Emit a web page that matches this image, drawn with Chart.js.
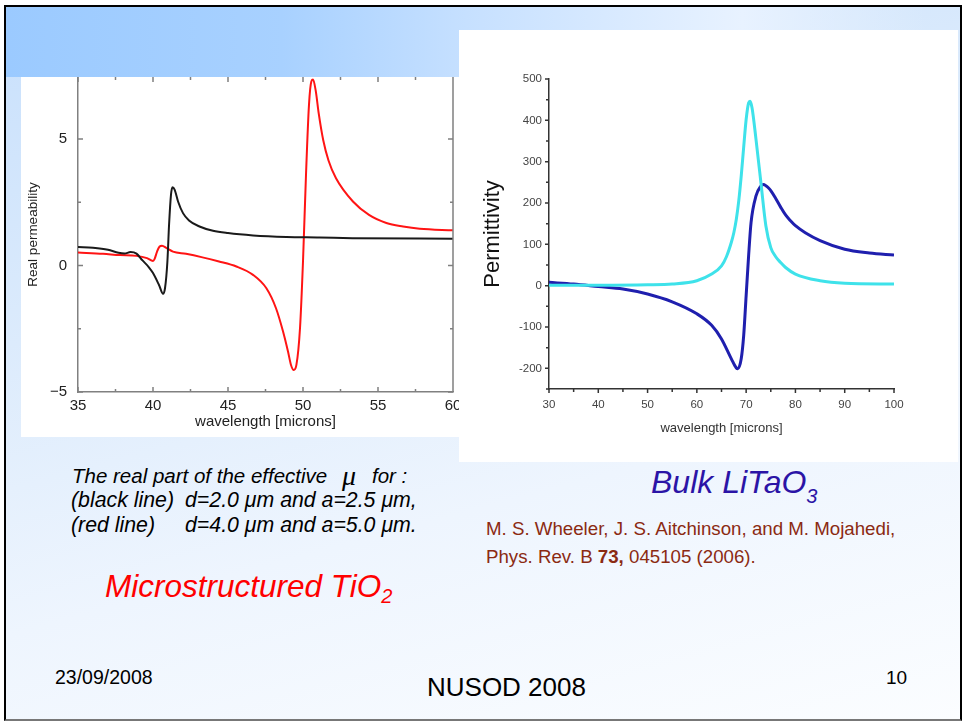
<!DOCTYPE html>
<html>
<head>
<meta charset="utf-8">
<script src="https://cdn.jsdelivr.net/npm/chart.js@4.4.1/dist/chart.umd.min.js"></script>
<style>
  body { margin: 0; width: 964px; height: 723px; position: relative; overflow: hidden; background: #fff;
         font-family: "Liberation Sans", Arial, sans-serif; }
  .slide { position: absolute; left: 4px; top: 5px; width: 954px; height: 712px;
           border: 2px solid #000; border-bottom-color: #777;
           background: linear-gradient(165deg, #c8e0fc 0%, #dcebfc 35%, #eef5fe 65%, #fbfdff 100%); }
  .band { position: absolute; left: 6px; top: 7px; width: 920px; height: 70px;
          background: linear-gradient(to right, #9bcaff 0%, #a8d1ff 30%, #c6e0ff 50%, #e8f2ff 80%, rgba(255,255,255,0) 100%); }
  .box { position: absolute; background: #fff; }
  .t { position: absolute; white-space: pre; line-height: 1; }
</style>
</head>
<body>
<div class="slide"></div>
<div class="band"></div>
<div class="box" style="left:21px;top:77px;width:438px;height:360px"><canvas id="leftChart"></canvas></div>
<div class="box" style="left:459px;top:30px;width:499px;height:432px"><canvas id="rightChart"></canvas></div>

<div class="t" style="left:72px;top:466px;font-size:20.5px;font-style:italic">The real part of the effective</div>
<div class="t" style="left:342px;top:462px;font-size:28px;font-style:italic;font-family:'Liberation Serif',serif">μ</div>
<div class="t" style="left:372px;top:466px;font-size:20.5px;font-style:italic">for :</div>
<div class="t" style="left:71px;top:490px;font-size:21.3px;font-style:italic">(black line)</div>
<div class="t" style="left:185px;top:490px;font-size:21.3px;font-style:italic">d=2.0 μm and a=2.5 μm,</div>
<div class="t" style="left:71px;top:515px;font-size:21.3px;font-style:italic">(red line)</div>
<div class="t" style="left:185px;top:515px;font-size:21.3px;font-style:italic">d=4.0 μm and a=5.0 μm.</div>
<div class="t" style="left:105px;top:571px;font-size:31.5px;font-style:italic;color:#ff0000">Microstructured TiO<span style="font-size:20px;position:relative;top:6px">2</span></div>
<div class="t" style="left:651px;top:466px;font-size:32px;font-style:italic;color:#2b14a6">Bulk LiTaO<span style="font-size:20px;position:relative;top:10px">3</span></div>
<div class="t" style="left:486px;top:520px;font-size:18.7px;color:#8b2a12">M. S. Wheeler, J. S. Aitchinson, and M. Mojahedi,</div>
<div class="t" style="left:486px;top:548px;font-size:18.7px;color:#8b2a12">Phys. Rev. B <b>73,</b> 045105 (2006).</div>
<div class="t" style="left:55px;top:668px;font-size:19.5px">23/09/2008</div>
<div class="t" style="left:427px;top:674px;font-size:26px">NUSOD 2008</div>
<div class="t" style="left:886px;top:668px;font-size:19px">10</div>

<script>
"use strict";
Chart.defaults.font.family = "'Liberation Sans', Arial, sans-serif";

// left graph: real permeability vs wavelength
const blackX = [35, 36, 37, 37.7, 38.1, 38.5, 38.9, 39.3, 39.7, 40, 40.4, 40.67, 40.8, 40.96, 41.07, 41.2, 41.3, 41.44, 41.67, 42, 42.4, 43.1, 44, 45, 46.67, 48.9, 51.1, 53.3, 60];
const blackY = [0.73, 0.70, 0.62, 0.50, 0.47, 0.53, 0.47, 0.2, -0.05, -0.30, -0.77, -1.12, -0.9, 0.16, 1.6, 2.8, 3.09, 3.0, 2.53, 2.07, 1.78, 1.54, 1.37, 1.28, 1.19, 1.13, 1.11, 1.08, 1.06];
const redX = [35, 36.67, 37.8, 38.9, 39.6, 40.0, 40.1, 40.27, 40.44, 40.6, 40.9, 41.33, 42.2, 43.3, 44.4, 45.56, 46.67, 47.56, 48.2, 48.67, 49.0, 49.2, 49.38, 49.56, 49.8, 50.0, 50.2, 50.4, 50.56, 50.67, 50.85, 51.05, 51.35, 51.7, 52.2, 53.33, 54.4, 55.56, 56.67, 57.78, 60];
const redY = [0.51, 0.46, 0.41, 0.38, 0.29, 0.18, 0.25, 0.55, 0.75, 0.78, 0.69, 0.55, 0.46, 0.32, 0.16, -0.04, -0.37, -0.90, -1.69, -2.61, -3.40, -3.93, -4.13, -3.93, -2.48, 0.16, 3.59, 6.36, 7.28, 7.35, 6.9, 6.0, 4.95, 4.15, 3.45, 2.53, 2.0, 1.68, 1.54, 1.45, 1.39];
const leftXMajor = [35, 40, 45, 50, 55, 60];
const leftXMinor = [37.5, 42.5, 47.5, 52.5, 57.5];
const leftYMajor = [-5, 0, 5];
const leftYMinor = [-2.5, 2.5];

// right graph: permittivity of bulk LiTaO3
const cyanX = [30, 40, 50, 55, 60, 63, 65, 66, 67, 67.5, 68, 68.5, 69, 69.5, 70, 70.5, 70.8, 71.2, 72, 73, 74, 75, 76, 77, 78, 80, 85, 90, 100];
const cyanY = [1, 1, 2, 4, 12, 28, 48, 70, 105, 128, 160, 205, 265, 335, 402, 442, 446, 430, 354, 249, 145, 92, 70, 56, 44, 28, 12, 6, 4];
const blueX = [30, 35, 40, 45, 50, 55, 60, 63, 65, 67, 68, 68.3, 69, 69.5, 70, 70.5, 71, 72, 73, 73.5, 74, 74.5, 75, 76, 77, 78, 79, 80, 82, 85, 90, 95, 100];
const blueY = [8, 4, -2, -8, -20, -39, -68, -96, -129, -177, -199, -201, -177, -121, -24, 72, 153, 217, 241, 245, 242, 237, 230, 211, 190, 171, 157, 145, 128, 109, 88, 79, 74];
const rightXMajor = [30, 40, 50, 60, 70, 80, 90, 100];
const rightXMinor = [35, 45, 55, 65, 75, 85, 95];
const rightYMajor = [-200, -100, 0, 100, 200, 300, 400, 500];
const rightYMinor = [-250, -150, -50, 50, 150, 250, 350, 450];

function pts(xs, ys) {
  return xs.map((x, i) => ({ x: x, y: ys[i] }));
}

// fixed axis box size, and no extra room for half labels
function fixBox(w, h) {
  return (s) => {
    if (w) s.width = w;
    if (h) s.height = h;
    s.paddingTop = s.paddingBottom = s.paddingLeft = s.paddingRight = 0;
  };
}

//tick marks drawn on the scales (inward for left graph, outward for right one)
const tickMarks = {
  id: "tickMarks",
  afterDatasetsDraw(chart, args, o) {
    const ctx = chart.ctx;
    const a = chart.chartArea;
    const sx = chart.scales.x, sy = chart.scales.y;
    ctx.save();
    ctx.strokeStyle = o.color;
    ctx.lineWidth = o.width;
    ctx.beginPath();
    const xt = (vals, len) => vals.forEach((v) => {
      const p = sx.getPixelForValue(v);
      if (o.inward) {
        ctx.moveTo(p, a.bottom); ctx.lineTo(p, a.bottom - len);
        ctx.moveTo(p, a.top); ctx.lineTo(p, a.top + len);
      } else {
        ctx.moveTo(p, a.bottom); ctx.lineTo(p, a.bottom + len);
      }
    });
    const yt = (vals, len) => vals.forEach((v) => {
      const p = sy.getPixelForValue(v);
      if (o.inward) {
        ctx.moveTo(a.left, p); ctx.lineTo(a.left + len, p);
        ctx.moveTo(a.right, p); ctx.lineTo(a.right - len, p);
      } else {
        ctx.moveTo(a.left, p); ctx.lineTo(a.left - len, p);
      }
    });
    xt(o.xMajor, o.major); xt(o.xMinor, o.minor);
    yt(o.yMajor, o.major); yt(o.yMinor, o.minor);
    if (o.inward) {
      ctx.moveTo(a.right, a.top); ctx.lineTo(a.right, a.bottom);
    }
    ctx.stroke();
    ctx.restore();
  },
};

new Chart(document.getElementById("leftChart"), {
  type: "line",
  data: {
    datasets: [
      { data: pts(blackX, blackY), borderColor: "#1a1a1a", borderWidth: 2 },
      { data: pts(redX, redY), borderColor: "#ff1414", borderWidth: 2 },
    ],
  },
  options: {
    responsive: true,
    maintainAspectRatio: false,
    animation: false,
    elements: { point: { radius: 0 }, line: { cubicInterpolationMode: "monotone" } },
    layout: { autoPadding: false, padding: { top: 0, right: 6, bottom: 0, left: 0 } },
    plugins: {
      legend: { display: false },
      tooltip: { enabled: false },
      tickMarks: { inward: true, color: "#808080", width: 1.5, major: 5, minor: 3,
        xMajor: leftXMajor, xMinor: leftXMinor, yMajor: leftYMajor, yMinor: leftYMinor },
    },
    scales: {
      x: {
        type: "linear", min: 35, max: 60,
        afterFit: fixBox(0, 45),
        grid: { display: false, drawTicks: false },
        border: { color: "#808080", width: 1.5 },
        ticks: { stepSize: 5, padding: 5, color: "#222", font: { size: 15 }, maxRotation: 0, autoSkip: false },
        title: { display: true, text: "wavelength [microns]", color: "#222", font: { size: 15 }, padding: { bottom: 6 } },
      },
      y: {
        min: -5, max: 7.45,
        afterFit: fixBox(57, 0),
        grid: { display: false, drawTicks: false },
        border: { color: "#808080", width: 1.5 },
        ticks: { stepSize: 5, includeBounds: false, padding: 11, color: "#222", font: { size: 15 },
          callback: (v) => (v < 0 ? "\u2212" + Math.abs(v) : v) },
        title: { display: true, text: "Real permeability", color: "#222", font: { size: 13.5 }, padding: { top: 4 } },
      },
    },
  },
  plugins: [tickMarks],
});

new Chart(document.getElementById("rightChart"), {
  type: "line",
  data: {
    datasets: [
      { data: pts(cyanX, cyanY), borderColor: "#3ee2ea", borderWidth: 3 },
      { data: pts(blueX, blueY), borderColor: "#1f1fae", borderWidth: 3 },
    ],
  },
  options: {
    responsive: true,
    maintainAspectRatio: false,
    animation: false,
    elements: { point: { radius: 0 }, line: { cubicInterpolationMode: "monotone" } },
    layout: { autoPadding: false, padding: { top: 49, right: 64, bottom: 0, left: 0 } },
    plugins: {
      legend: { display: false },
      tooltip: { enabled: false },
      tickMarks: { inward: false, color: "#333", width: 1.5, major: 4, minor: 3,
        xMajor: rightXMajor, xMinor: rightXMinor, yMajor: rightYMajor, yMinor: rightYMinor },
    },
    scales: {
      x: {
        type: "linear", min: 30, max: 100,
        afterFit: fixBox(0, 73),
        grid: { display: false, drawTicks: false },
        border: { color: "#333", width: 1.5 },
        ticks: { stepSize: 10, padding: 9, color: "#444", font: { size: 11.5 }, maxRotation: 0, autoSkip: false },
        title: { display: true, text: "wavelength [microns]", color: "#333", font: { size: 13 }, padding: { bottom: 26 } },
      },
      y: {
        min: -250, max: 500,
        afterFit: fixBox(90, 0),
        grid: { display: false, drawTicks: false },
        border: { color: "#333", width: 1.5 },
        ticks: { stepSize: 100, includeBounds: false, padding: 7, color: "#444", font: { size: 11.5 } },
        title: { display: true, text: "Permittivity", color: "#111", font: { size: 22 }, padding: { top: 21 } },
      },
    },
  },
  plugins: [tickMarks],
});
</script>
</body>
</html>
